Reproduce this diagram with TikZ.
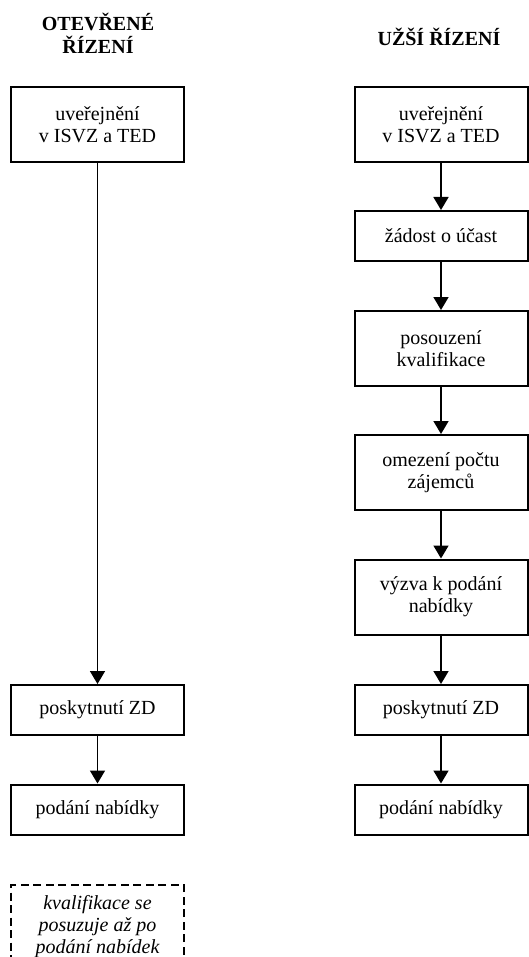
\documentclass[tikz,border=0pt]{standalone}
\usepackage{fontspec}
\setmainfont{Liberation Serif}
\usetikzlibrary{arrows.meta}
\tikzset{
  krok/.style={draw, line width=2pt, minimum width=173pt, align=center, inner sep=0pt},
  dvakrok/.style={krok, minimum height=75pt},
  jedenkrok/.style={krok, minimum height=50pt},
  sipka/.style={line width=1.7pt, -{Triangle[width=15pt,length=13pt]}},
  nadpis/.style={align=center, font=\fontsize{20}{23}\selectfont\bfseries},
}
\begin{document}
\begin{tikzpicture}[x=1pt,y=-1pt,font=\fontsize{20}{22}\selectfont]
      \useasboundingbox (0,0) rectangle (529,957);
      \clip (0,0) rectangle (529,957);
      % otevrene rizeni
      \node (t1) at (98,33.5) [nadpis] {OTEVŘENÉ\\ŘÍZENÍ};
      \node (a1) at (97.5,124.5) [dvakrok] {uveřejnění\\v ISVZ a TED};
      \node (a2) at (97.5,710) [jedenkrok] {poskytnutí ZD};
      \node (a3) at (97.5,809.5) [jedenkrok] {podání nabídky};
      \draw[sipka] (a1) -- (a2);
      \draw[sipka] (a2) -- (a3);
      \node (pozn) at (97.5,927) [draw, line width=2pt, dash pattern=on 8pt off 4.5pt,
        minimum width=173pt, minimum height=84pt, align=center,
        font=\fontsize{20}{22}\selectfont\itshape] {kvalifikace se\\posuzuje až po\\podání nabídek};
      % uzsi rizeni
      \node (t2) at (439,37) [nadpis] {UŽŠÍ ŘÍZENÍ};
      \node (b1) at (441,124.5) [dvakrok] {uveřejnění\\v ISVZ a TED};
      \node (b2) at (441,236) [jedenkrok] {žádost o účast};
      \node (b3) at (441,348.5) [dvakrok] {posouzení\\kvalifikace};
      \node (b4) at (441,472.5) [dvakrok] {omezení počtu\\zájemců};
      \node (b5) at (441,597) [dvakrok] {výzva k podání\\nabídky};
      \node (b6) at (441,710) [jedenkrok] {poskytnutí ZD};
      \node (b7) at (441,809.5) [jedenkrok] {podání nabídky};
      \draw[sipka] (b1) -- (b2);
      \draw[sipka] (b2) -- (b3);
      \draw[sipka] (b3) -- (b4);
      \draw[sipka] (b4) -- (b5);
      \draw[sipka] (b5) -- (b6);
      \draw[sipka] (b6) -- (b7);
\end{tikzpicture}
\end{document}
